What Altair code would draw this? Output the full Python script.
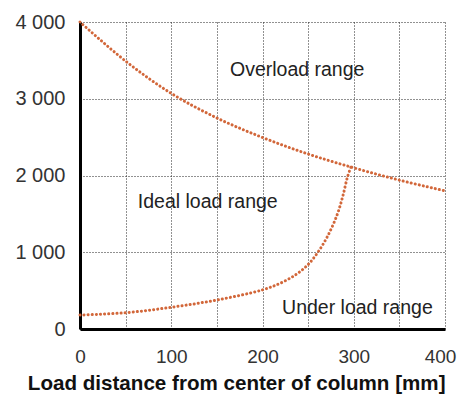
import altair as alt
import pandas as pd

# Overload boundary (upper curve)
over_x = [0, 50, 100, 150, 200, 250, 300, 350, 400]
over_y = [4000, 3490, 3070, 2750, 2495, 2280, 2100, 1940, 1800]

# Under-load boundary (lower curve)
under_x = [0, 50, 100, 150, 200, 220, 237, 250, 261, 272, 282, 288, 293, 297]
under_y = [182, 212, 283, 378, 510, 600, 712, 840, 1005, 1225, 1495, 1730, 1975, 2115]

labels = ["Overload range", "Ideal load range", "Under load range"]
label_x = [238, 140, 304]
label_y = [3375, 1655, 274]

x_ticks = [0, 50, 100, 150, 200, 250, 300, 350, 400]
y_ticks = [0, 1000, 2000, 3000, 4000]

curves = pd.DataFrame(
    {"x": over_x + under_x,
     "y": over_y + under_y,
     "s": ["over"] * len(over_x) + ["under"] * len(under_x)}
)
texts = pd.DataFrame({"x": label_x, "y": label_y, "t": labels})

xscale = alt.Scale(domain=[0, 400], nice=False)
yscale = alt.Scale(domain=[0, 4000], nice=False)

xaxis = alt.Axis(
    values=x_ticks,
    labelExpr="datum.value % 100 == 0 ? datum.label : ''",
    labelFlush=False,
    labelOffset=alt.ConditionalAxisNumber(
        condition={"test": "datum.value == 400", "value": -5}, value=0
    ),
    title="Load distance from center of column [mm]",
    titleFontSize=20.6, titleFontWeight="bold", titleColor="#111",
    titleAnchor="end", titlePadding=7,
    labelFontSize=19, labelColor="#333", labelPadding=18,
    ticks=False, domainColor="#000", domainWidth=3,
    grid=True, gridColor="#222", gridDash=[1, 2], gridWidth=1,
)
yaxis = alt.Axis(
    values=y_ticks,
    labelExpr="replace(format(datum.value, ','), ',', ' ')",
    labelFlush=False,
    title=None,
    labelFontSize=20, labelColor="#333", labelPadding=15,
    ticks=False, domainColor="#000", domainWidth=3,
    grid=True, gridColor="#222", gridDash=[1, 2], gridWidth=1,
)

lines = alt.Chart(curves).mark_line(
    color="#d2673a", strokeWidth=3, strokeDash=[0.1, 4], strokeCap="round",
    interpolate="catmull-rom",
).encode(
    x=alt.X("x:Q", scale=xscale, axis=xaxis),
    y=alt.Y("y:Q", scale=yscale, axis=yaxis),
    detail="s:N",
)

txt = alt.Chart(texts).mark_text(
    fontSize=19.5, color="#222", align="center", baseline="middle",
    font="Liberation Sans",
).encode(
    x=alt.X("x:Q", scale=xscale),
    y=alt.Y("y:Q", scale=yscale),
    text="t:N",
)

chart = alt.layer(lines, txt).properties(
    width=365, height=307,
    autosize=alt.AutoSizeParams(type="none"),
    padding={"left": 72, "top": 14, "right": 13, "bottom": 70},
).configure_view(stroke=None).configure_axis(
    labelFont="Liberation Sans", titleFont="Liberation Sans"
)

chart.save("out.html", embed_options={"renderer": "svg", "actions": False})
